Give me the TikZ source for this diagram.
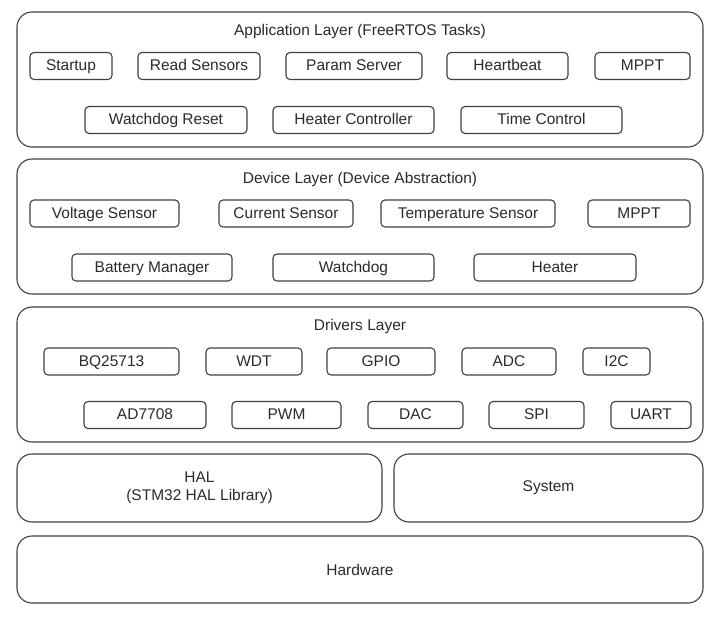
\documentclass[tikz,border=0pt]{standalone}
\usepackage{fontspec}
\setmainfont{Liberation Sans}
\usepackage{tikz}
\usetikzlibrary{positioning}
\definecolor{edgegray}{HTML}{404040}
\definecolor{textgray}{HTML}{2A2A2A}
\tikzset{
	layer/.style={draw=edgegray, line width=1.1pt, rounded corners=15pt, inner sep=0pt, minimum height=135pt},
	block/.style={draw=edgegray, line width=1.1pt, rounded corners=4pt, inner sep=0pt, minimum height=27pt, text=textgray, text height=11.5pt, text depth=2.5pt},
	title/.style={text=textgray, text height=11.5pt, text depth=2.5pt}
}

\begin{document}
\begin{tikzpicture}[x=1pt, y=-1pt, font=\fontsize{15.5}{18.5}\selectfont]
		\useasboundingbox (0, 0) rectangle (721, 618);

		\draw (360, 79.5) node[layer, minimum width=686] (app) {};
		\draw (360, 31) node[title] (apptitle) {Application Layer (FreeRTOS Tasks)};
		\draw (71, 66)    node[block, minimum width=82]  (startup)   {Startup};
		\draw (199, 66)   node[block, minimum width=122] (readsens)  {Read Sensors};
		\draw (354, 66)   node[block, minimum width=136] (param)     {Param Server};
		\draw (507.5, 66) node[block, minimum width=121] (heartbeat) {Heartbeat};
		\draw (642.5, 66) node[block, minimum width=95]  (appmppt)   {MPPT};
		\draw (166, 120)   node[block, minimum width=162] (wdreset)   {Watchdog Reset};
		\draw (353.5, 120) node[block, minimum width=161] (heatctrl)  {Heater Controller};
		\draw (541.5, 120) node[block, minimum width=161] (timectrl)  {Time Control};


		\draw (360, 226.5) node[layer, minimum width=686] (dev) {};
		\draw (360, 179) node[title] (devtitle) {Device Layer (Device Abstraction)};
		\draw (104.5, 213.5) node[block, minimum width=149] (voltage) {Voltage Sensor};
		\draw (286, 213.5)   node[block, minimum width=134] (current) {Current Sensor};
		\draw (468, 213.5)   node[block, minimum width=174] (temp)    {Temperature Sensor};
		\draw (639, 213.5)   node[block, minimum width=102] (devmppt) {MPPT};
		\draw (152, 267.5)   node[block, minimum width=160] (battery)  {Battery Manager};
		\draw (353.5, 267.5) node[block, minimum width=161] (watchdog) {Watchdog};
		\draw (555, 267.5)   node[block, minimum width=162] (heater)   {Heater};


		\draw (360, 374.5) node[layer, minimum width=686] (drv) {};
		\draw (360, 326) node[title] (drvtitle) {Drivers Layer};
		\draw (111.5, 361.5) node[block, minimum width=135] (bq)   {BQ25713};
		\draw (254, 361.5)   node[block, minimum width=96]  (wdt)  {WDT};
		\draw (381, 361.5)   node[block, minimum width=108] (gpio) {GPIO};
		\draw (509, 361.5)   node[block, minimum width=94]  (adc)  {ADC};
		\draw (616.5, 361.5) node[block, minimum width=67]  (iic)  {I2C};
		\draw (145, 415)   node[block, minimum width=122] (ad)   {AD7708};
		\draw (286.5, 415) node[block, minimum width=109] (pwm)  {PWM};
		\draw (415.5, 415) node[block, minimum width=95]  (dac)  {DAC};
		\draw (536.5, 415) node[block, minimum width=95]  (spi)  {SPI};
		\draw (651, 415)   node[block, minimum width=80]  (uart) {UART};


		\draw (199.5, 488) node[layer, minimum width=365, minimum height=68, align=center, text=textgray] (hal) {HAL\\(STM32 HAL Library)};
		\draw (548.5, 488) node[layer, minimum width=309, minimum height=68, text=textgray] (system) {System};
		\draw (360, 569.5) node[layer, minimum width=686, minimum height=67, text=textgray] (hw) {Hardware};

	\end{tikzpicture}
\end{document}
